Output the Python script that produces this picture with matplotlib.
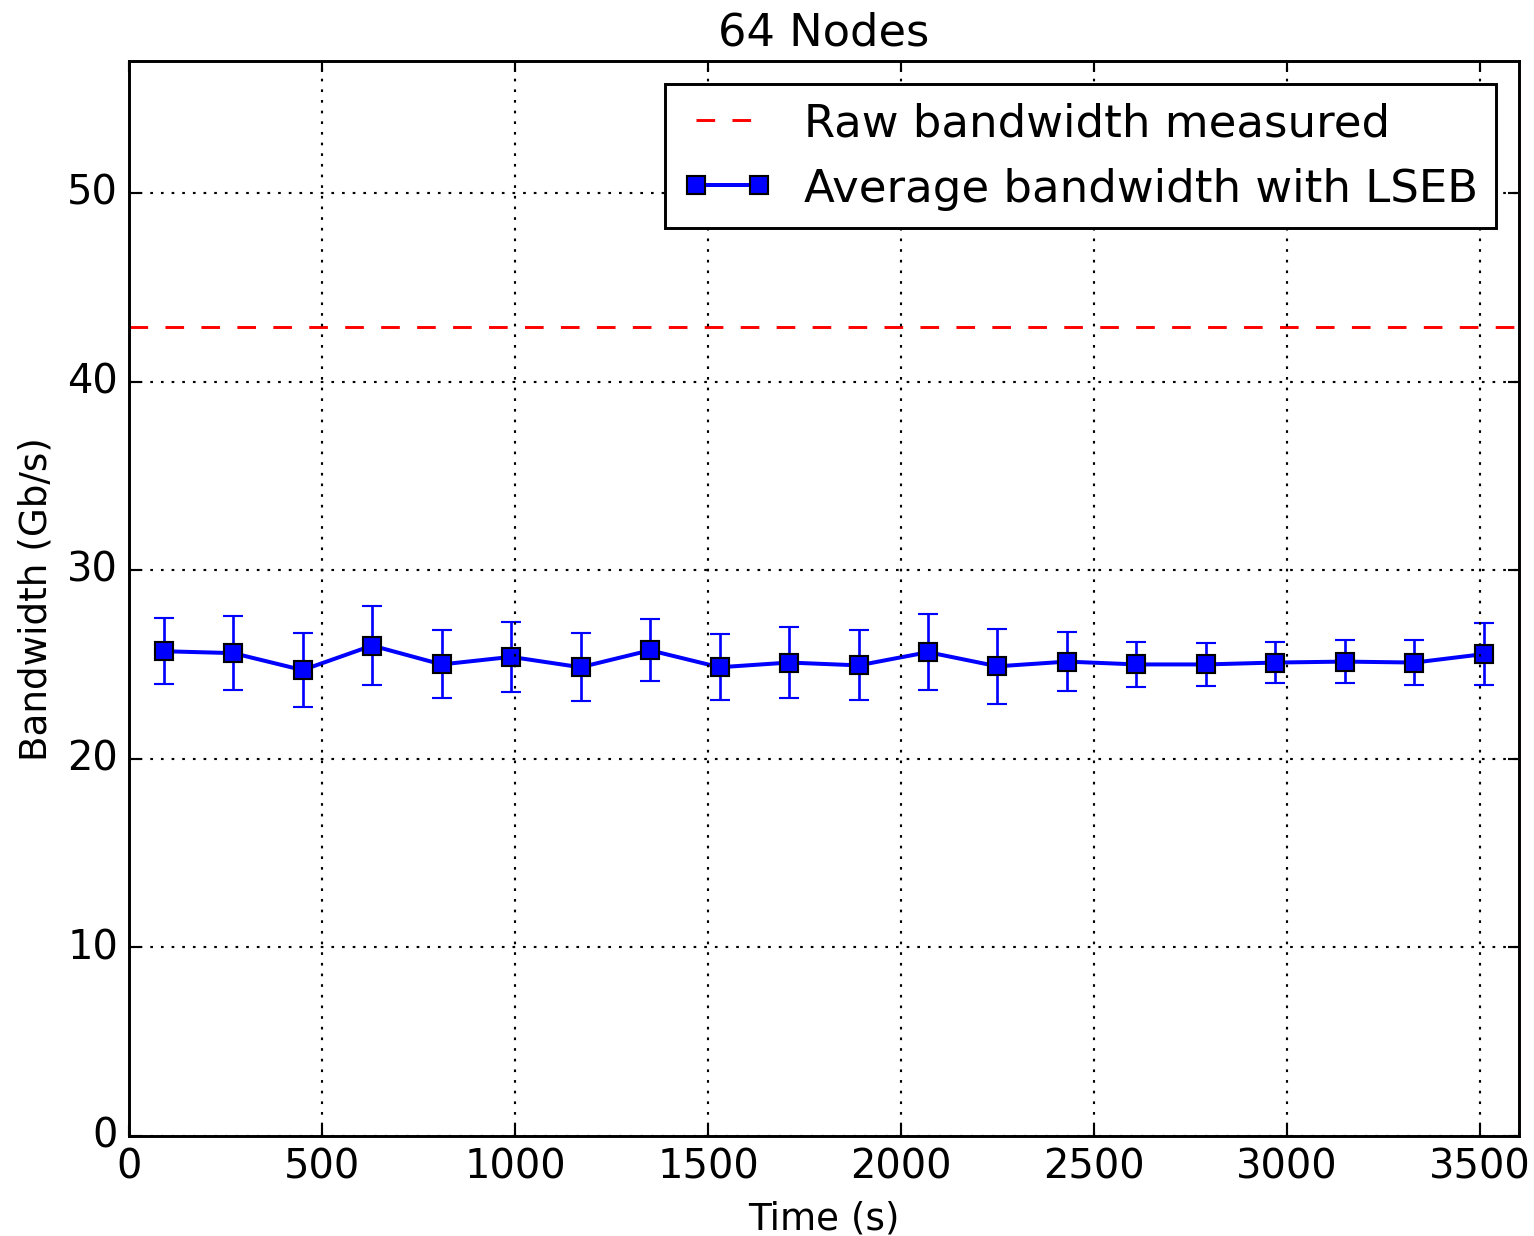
import numpy as np
import matplotlib
matplotlib.use("Agg")
import matplotlib.pyplot as plt
from matplotlib.lines import Line2D

plt.style.use("classic")

# sample times (s)
time_s = [90, 270, 450, 630, 810, 990, 1170, 1350, 1530, 1710,
          1890, 2070, 2250, 2430, 2610, 2790, 2970, 3150, 3330, 3510]
# average bandwidth with LSEB (Gb/s) and its error
avg_bw = [25.7, 25.6, 24.7, 26.0, 25.0, 25.4, 24.85, 25.75, 24.85, 25.1,
          24.95, 25.65, 24.9, 25.15, 25.0, 25.0, 25.1, 25.15, 25.1, 25.55]
avg_err = [1.75, 1.95, 1.95, 2.1, 1.8, 1.85, 1.8, 1.65, 1.75, 1.9,
           1.85, 2.0, 2.0, 1.55, 1.2, 1.15, 1.1, 1.15, 1.2, 1.65]
raw_bw = 42.9

fig = plt.figure(figsize=(8, 6.45), dpi=191.75, facecolor="white")
ax = fig.add_axes([0.084, 0.081, 0.906, 0.869])

ax.axhline(raw_bw, color="red", linestyle="--", linewidth=1.1,
           dashes=(7, 6.5))
ax.errorbar(time_s, avg_bw, yerr=avg_err, color="blue", linewidth=1.5,
            elinewidth=1.0, capsize=3.6, capthick=1.0,
            marker="s", markersize=7, markerfacecolor="blue",
            markeredgecolor="black", markeredgewidth=0.8)

ax.set_xlim(0, 3600)
ax.set_ylim(0, 57)
ax.set_xticks(np.arange(0, 3501, 500))
ax.set_yticks(np.arange(0, 51, 10))
ax.tick_params(labelsize=15, width=0.8, length=4)
for s in ax.spines.values():
    s.set_linewidth(1.1)
ax.grid(True, color="black", linestyle=":", linewidth=0.8)

ax.set_xlabel("Time (s)", fontsize=14)
ax.set_ylabel("Bandwidth (Gb/s)", fontsize=14)
ax.set_title("64 Nodes", fontsize=16.8, pad=6)

# legend handles drawn without the error bars
h_raw = Line2D([], [], color="red", linestyle="--", linewidth=1.1,
               dashes=(7, 6.5))
h_avg = Line2D([], [], color="blue", linewidth=1.5, marker="s",
               markersize=7, markerfacecolor="blue",
               markeredgecolor="black", markeredgewidth=0.8)
leg = ax.legend([h_raw, h_avg],
                ["Raw bandwidth measured", "Average bandwidth with LSEB"],
                loc="upper right", fontsize=16.9, numpoints=2,
                handlelength=2.0, handletextpad=0.7,
                borderaxespad=0.5, fancybox=False)
leg.get_frame().set_linewidth(1.1)
leg.get_frame().set_edgecolor("black")

fig.savefig("out.png", dpi=191.75, facecolor="white")
